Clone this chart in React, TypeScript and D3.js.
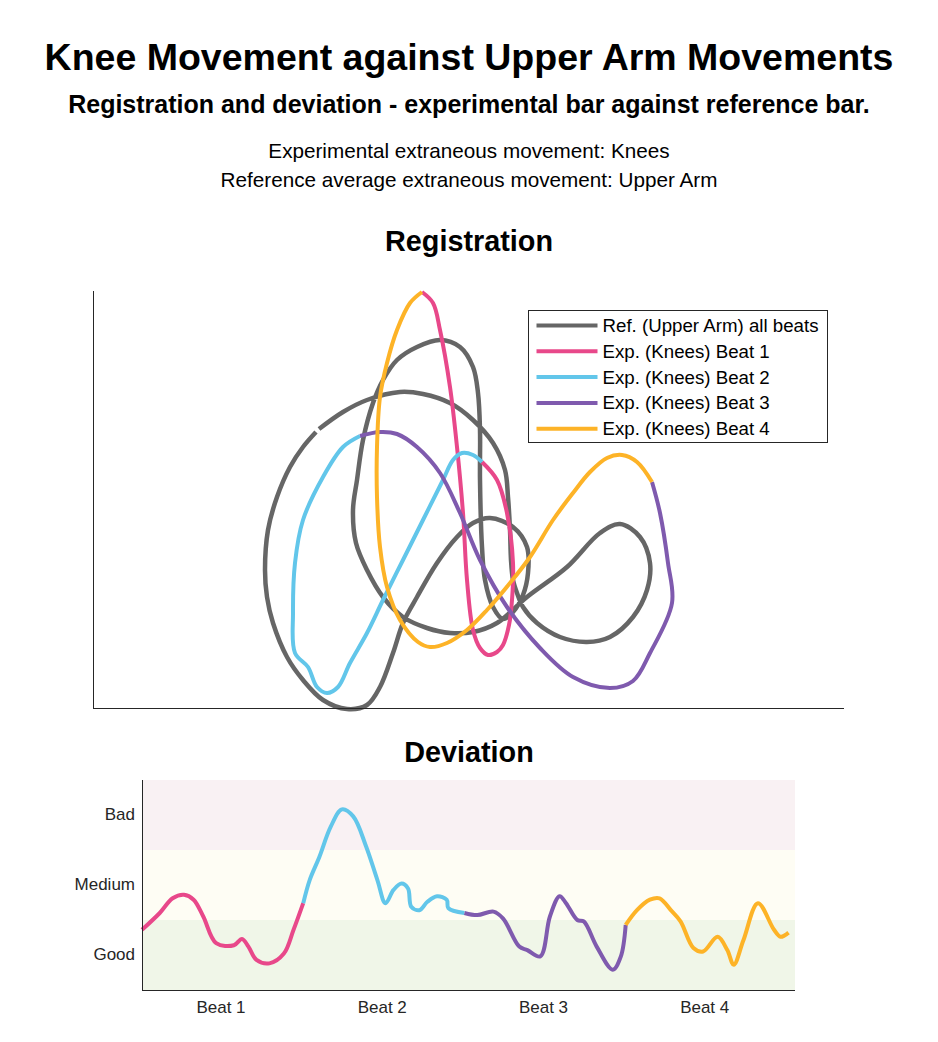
import React from "react";
import * as d3 from "d3";

// ---------- Registration data (arbitrary trajectory units) ----------
const refX = [226,250,274,307,330,357,380,400,412,415,417,418,420,424,430,444,467,494,517,540,554,557,547,527,507,474,434,404,380,357,334,310,290,274,263,260,264,270,280,290,304,324,347,367,380,385,387,387,389,392,400,410,420,430,435,434,420,397,380,364,344,324,310,300,287,274,254,230,210,194,180,174,172,175,184,197,210,223];
const refY = [279,296,308,316,314,305,288,265,238,211,178,148,128,115,101,85,71,66,71,91,118,145,171,184,175,141,111,85,76,75,80,91,111,138,165,198,228,268,305,328,348,361,368,361,341,315,278,228,161,128,101,89,96,113,135,161,181,190,185,171,145,111,85,55,21,3,-1,8,28,51,85,111,138,178,211,241,261,276];

const beat1X = [329,340,347,357,364,370,374,380,387,395,404,410,416,419,420,414,404,389];
const beat1Y = [416,405,378,321,261,195,128,78,60,53,56,63,83,108,145,195,228,246];
const beat2X = [389,380,369,360,350,330,310,290,274,257,245,234,224,215,202,200,202,210,230,250,267];
const beat2Y = [246,253,255,248,228,188,148,108,75,45,21,15,21,41,55,95,145,188,231,261,272];
const beat3X = [267,287,304,324,347,367,387,414,447,480,517,540,557,579,575,567,559];
const beat3Y = [272,276,274,261,235,195,148,101,60,31,20,27,55,105,145,195,226];
const beat4X = [559,544,529,514,497,480,460,437,417,394,374,354,337,325,307,294,287,284,284,287,294,304,317,329];
const beat4Y = [226,246,253,250,236,215,188,151,125,98,78,65,61,66,88,121,161,211,261,311,345,378,405,416];

// ---------- Deviation data (time in beats, deviation score) ----------
const dev1T = [0,0.11,0.19,0.26,0.32,0.38,0.46,0.57,0.62,0.66,0.71,0.79,0.88,0.94,1.0];
const dev1V = [0.86,1.10,1.31,1.36,1.29,1.05,0.67,0.64,0.73,0.62,0.43,0.38,0.52,0.86,1.24];
const dev2T = [1.0,1.04,1.10,1.17,1.24,1.31,1.39,1.46,1.51,1.56,1.61,1.65,1.67,1.72,1.77,1.83,1.89,1.90,2.0];
const dev2V = [1.24,1.57,1.90,2.33,2.58,2.48,2.05,1.57,1.24,1.43,1.52,1.45,1.19,1.14,1.26,1.34,1.29,1.17,1.10];
const dev3T = [2.0,2.08,2.18,2.24,2.34,2.39,2.47,2.53,2.59,2.63,2.70,2.74,2.82,2.92,2.97,3.0];
const dev3V = [1.10,1.07,1.12,1.02,0.62,0.57,0.48,1.05,1.34,1.24,1.00,0.98,0.62,0.29,0.48,0.93];
const dev4T = [3.0,3.07,3.15,3.21,3.28,3.34,3.42,3.48,3.57,3.63,3.67,3.73,3.82,3.92,3.96,4.01];
const dev4V = [0.93,1.14,1.29,1.31,1.14,0.98,0.60,0.55,0.76,0.57,0.36,0.71,1.24,0.86,0.76,0.82];

const beatLabels = ["Beat 1", "Beat 2", "Beat 3", "Beat 4"];
const beatTickPos = [0.49, 1.49, 2.49, 3.49];
const levelLabels = ["Good", "Medium", "Bad"];
const levelColors = ["#f0f6e8", "#fefdf4", "#f9f1f3"];

const legendLabels = [
  "Ref. (Upper Arm) all beats",
  "Exp. (Knees) Beat 1",
  "Exp. (Knees) Beat 2",
  "Exp. (Knees) Beat 3",
  "Exp. (Knees) Beat 4",
];
const refColor = "#666666";
const beatColors = ["#e8488a", "#62c6ea", "#7f5aae", "#fdb327"];

const FONT = "'Liberation Sans', Arial, Helvetica, sans-serif";
const AX = "#262626";

function zip(xs: number[], ys: number[]): [number, number][] {
  return xs.map((x, i) => [x, ys[i]]);
}

export default function App() {
  // Registration axes
  const rx = d3.scaleLinear().domain([0, 751]).range([93, 844]);
  const ry = d3.scaleLinear().domain([0, 417]).range([708, 291]);
  const regLine = d3
    .line<[number, number]>()
    .x((d) => rx(d[0]))
    .y((d) => ry(d[1]))
    .curve(d3.curveCatmullRom.alpha(0.5));

  const beats = [
    zip(beat1X, beat1Y),
    zip(beat2X, beat2Y),
    zip(beat3X, beat3Y),
    zip(beat4X, beat4Y),
  ];

  // Deviation axes
  const dx = d3.scaleLinear().domain([0, 4.05]).range([142, 795]);
  const dy = d3.scaleLinear().domain([0, 3]).range([990, 780]);
  const devLine = d3
    .line<[number, number]>()
    .x((d) => dx(d[0]))
    .y((d) => dy(d[1]))
    .curve(d3.curveCatmullRom.alpha(0.5));
  const devs = [
    zip(dev1T, dev1V),
    zip(dev2T, dev2V),
    zip(dev3T, dev3V),
    zip(dev4T, dev4V),
  ];

  const legX = 528.5;
  const legY = 310.5;
  const legRow = 25.8;

  return (
    <div style={{ position: "absolute", left: 0, top: 0 }}>
      <svg width={938} height={1042} style={{ display: "block", background: "#fff" }} fontFamily={FONT}>
        {/* Titles */}
        <text x={469} y={70} textAnchor="middle" fontSize={37.5} fontWeight="bold" fill="#000">
          Knee Movement against Upper Arm Movements
        </text>
        <text x={469} y={113} textAnchor="middle" fontSize={25} fontWeight="bold" fill="#000">
          Registration and deviation - experimental bar against reference bar.
        </text>
        <text x={469} y={158} textAnchor="middle" fontSize={20.7} fill="#000">
          Experimental extraneous movement: Knees
        </text>
        <text x={469} y={187} textAnchor="middle" fontSize={20.7} fill="#000">
          Reference average extraneous movement: Upper Arm
        </text>

        {/* Registration */}
        <text x={469} y={251} textAnchor="middle" fontSize={28.8} fontWeight="bold" fill="#000">
          Registration
        </text>
        <path
          d={regLine(zip(refX, refY)) || ""}
          fill="none"
          stroke={refColor}
          strokeWidth={4.5}
          strokeLinejoin="round"
        />
        {beats.map((b, i) => (
          <path
            key={i}
            d={regLine(b) || ""}
            fill="none"
            stroke={beatColors[i]}
            strokeWidth={4}
            strokeLinejoin="round"
          />
        ))}
        <line x1={rx(0) + 0.5} x2={rx(0) + 0.5} y1={ry(417)} y2={ry(0)} stroke={AX} strokeWidth={1} />
        <line x1={rx(0)} x2={rx(751)} y1={ry(0) + 0.5} y2={ry(0) + 0.5} stroke={AX} strokeWidth={1} />

        {/* Legend */}
        <rect x={legX} y={legY} width={299} height={132} fill="#fff" stroke={AX} strokeWidth={1} />
        {legendLabels.map((lab, i) => {
          const cy = legY + 15 + i * legRow;
          const col = i === 0 ? refColor : beatColors[i - 1];
          return (
            <g key={lab}>
              <line x1={legX + 8} x2={legX + 69} y1={cy} y2={cy} stroke={col} strokeWidth={4} />
              <text x={legX + 74} y={cy + 6.5} fontSize={18.7} fill="#000">
                {lab}
              </text>
            </g>
          );
        })}

        {/* Deviation */}
        <text x={469} y={762} textAnchor="middle" fontSize={28.8} fontWeight="bold" fill="#000">
          Deviation
        </text>
        {levelLabels.map((lab, i) => (
          <rect
            key={lab}
            x={dx(0)}
            width={dx(4.05) - dx(0)}
            y={dy(i + 1)}
            height={dy(i) - dy(i + 1)}
            fill={levelColors[i]}
          />
        ))}
        {devs.map((d, i) => (
          <path
            key={i}
            d={devLine(d) || ""}
            fill="none"
            stroke={beatColors[i]}
            strokeWidth={4}
            strokeLinejoin="round"
          />
        ))}
        <line x1={dx(0) + 0.5} x2={dx(0) + 0.5} y1={dy(3)} y2={dy(0)} stroke={AX} strokeWidth={1} />
        <line x1={dx(0)} x2={dx(4.05)} y1={dy(0) + 0.5} y2={dy(0) + 0.5} stroke={AX} strokeWidth={1} />
        {levelLabels.map((lab, i) => (
          <text
            key={lab}
            x={dx(0) - 7}
            y={dy(i + 0.5) + 5}
            textAnchor="end"
            fontSize={17}
            fill="#262626"
          >
            {lab}
          </text>
        ))}
        {beatLabels.map((lab, i) => (
          <text
            key={lab}
            x={dx(beatTickPos[i])}
            y={1013}
            textAnchor="middle"
            fontSize={17}
            fill="#262626"
          >
            {lab}
          </text>
        ))}
      </svg>
    </div>
  );
}
